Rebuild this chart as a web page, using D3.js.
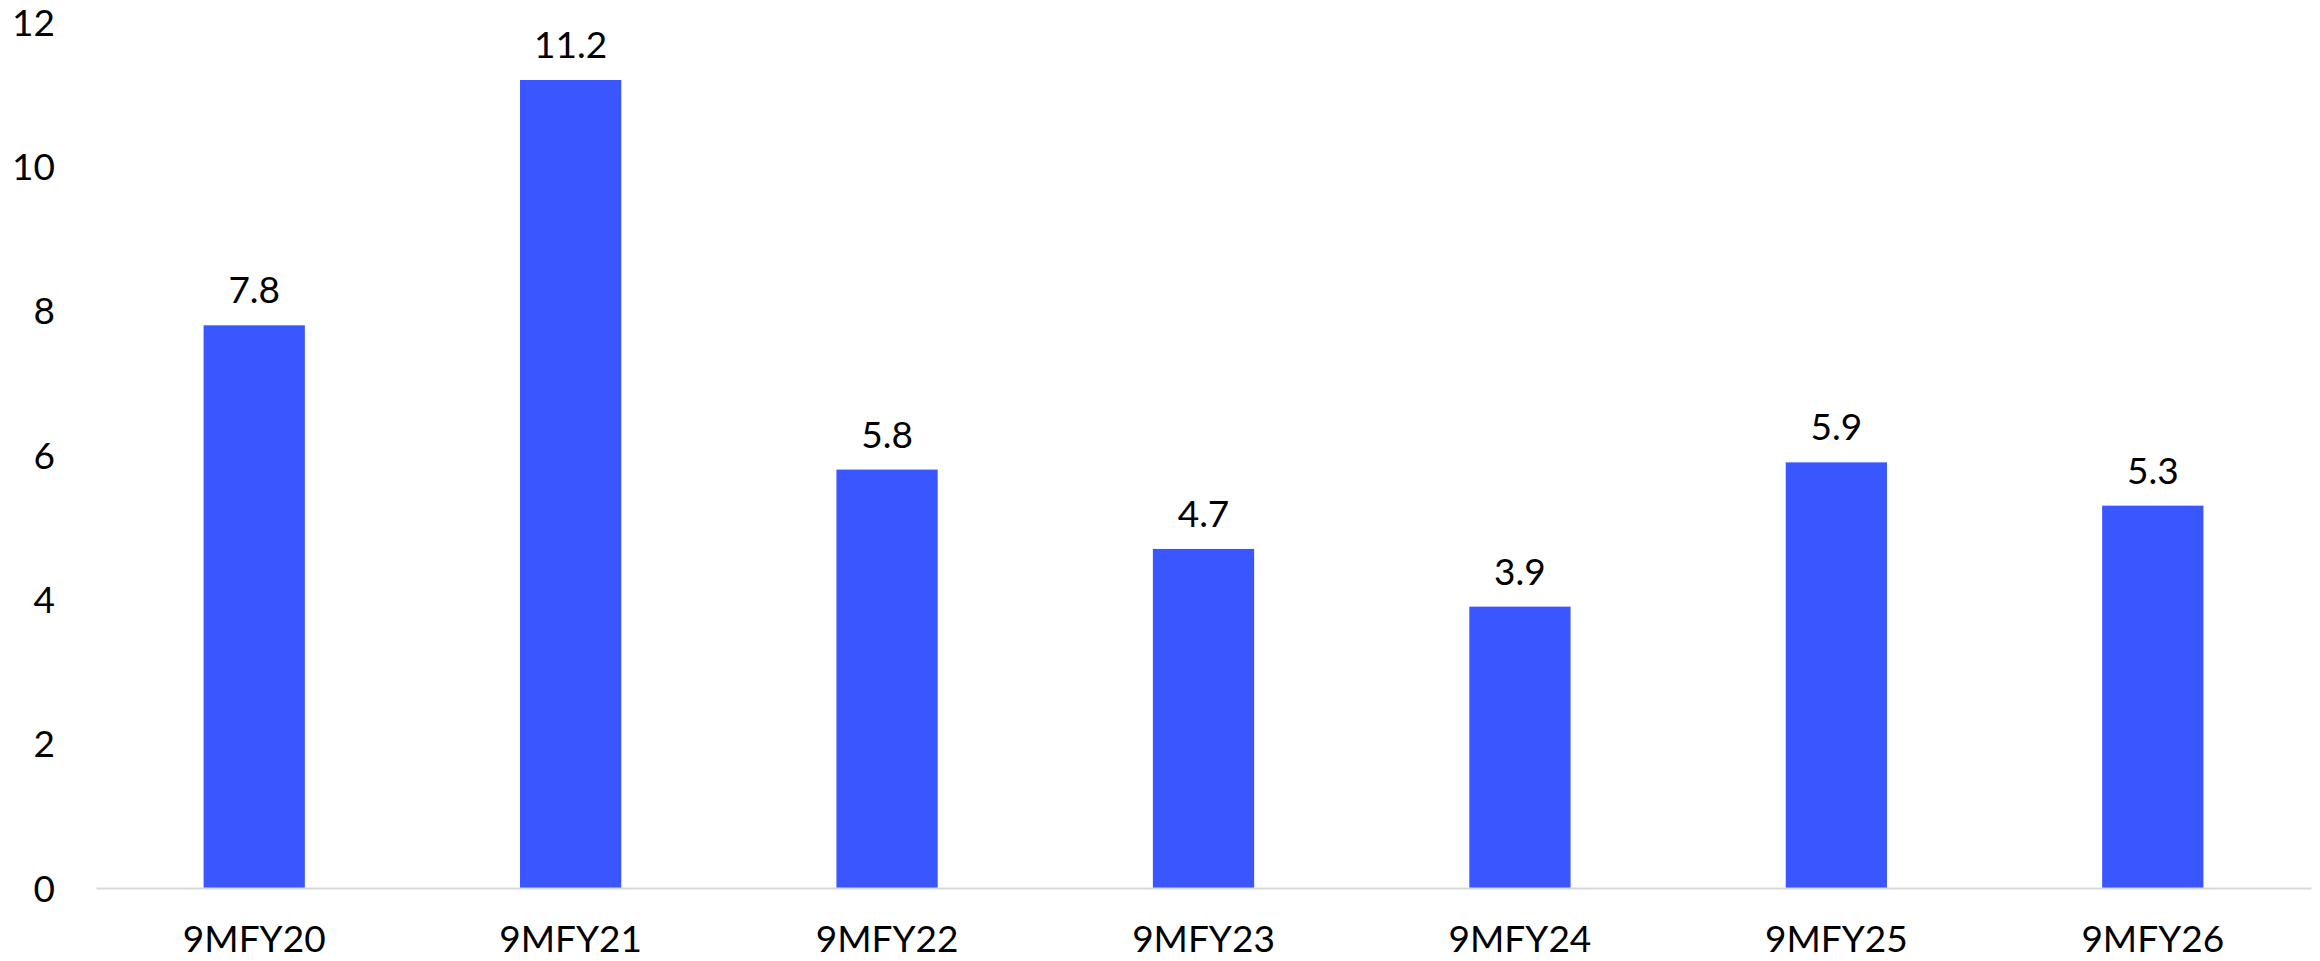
<!DOCTYPE html>
<html>
<head>
<meta charset="utf-8">
<script src="https://cdn.jsdelivr.net/npm/d3@7/dist/d3.min.js"></script>
<style>
  html, body { margin: 0; padding: 0; background: #ffffff; }
  svg { display: block; }
  text { font-family: Lato, "Open Sans", sans-serif; fill: #000; }
</style>
</head>
<body>
<svg id="chart" width="2320" height="961"></svg>
<script>
// Nine-month figures by fiscal year
const categories = ["9MFY20", "9MFY21", "9MFY22", "9MFY23", "9MFY24", "9MFY25", "9MFY26"];
const values = [7.8, 11.2, 5.8, 4.7, 3.9, 5.9, 5.3];
const yTicks = [0, 2, 4, 6, 8, 10, 12];

const W = 2320, H = 961;
const margin = { left: 96, right: 9, top: 22.3, bottom: 73 };
const fontSize = 37;
const capHalf = 13;

const svg = d3.select("#chart");

const x = d3.scaleBand()
  .domain(categories)
  .range([margin.left, W - margin.right])
  .paddingInner(0.68)
  .paddingOuter(0.34);

const y = d3.scaleLinear()
  .domain([0, 12])
  .range([H - margin.bottom, margin.top]);

// Bars
svg.append("g")
  .selectAll("rect")
  .data(values)
  .join("rect")
  .attr("x", (d, i) => x(categories[i]))
  .attr("width", x.bandwidth())
  .attr("y", d => y(d))
  .attr("height", d => y(0) - y(d))
  .attr("fill", "#3A57FF");

// Value labels above bars
svg.append("g")
  .selectAll("text")
  .data(values)
  .join("text")
  .attr("x", (d, i) => x(categories[i]) + x.bandwidth() / 2)
  .attr("y", d => y(d) - 22)
  .attr("text-anchor", "middle")
  .attr("font-size", fontSize)
  .text(d => d.toFixed(1));

// Y axis: labels only
const yAxis = svg.append("g")
  .attr("transform", "translate(55,0)")
  .call(d3.axisLeft(y).tickValues(yTicks).tickSize(0).tickPadding(0).tickFormat(d3.format("d")));
yAxis.select(".domain").remove();
yAxis.selectAll("text")
  .attr("font-size", fontSize)
  .attr("font-family", null)
  .attr("dy", null)
  .attr("y", capHalf)
  .attr("fill", "#000");

// X axis with light baseline
const xAxis = svg.append("g")
  .attr("transform", `translate(0,${y(0)})`)
  .call(d3.axisBottom(x).tickSize(0).tickSizeOuter(0).tickPadding(0));
xAxis.select(".domain")
  .attr("stroke", "#d9d9d9")
  .attr("stroke-width", 2);
xAxis.selectAll("text")
  .attr("font-size", fontSize)
  .attr("font-family", null)
  .attr("dy", null)
  .attr("y", 64)
  .attr("fill", "#000");
</script>
</body>
</html>
